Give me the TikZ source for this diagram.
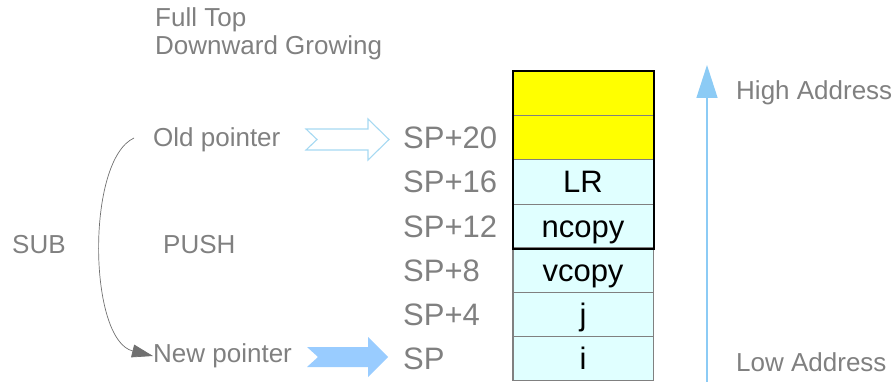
\documentclass[tikz,border=0pt]{standalone}
\usepackage{fontspec}
\setmainfont{Liberation Sans}
\usetikzlibrary{arrows.meta}
\definecolor{txtgray}{HTML}{808080}
\definecolor{cellcyan}{HTML}{E0FFFF}
\definecolor{cellyellow}{HTML}{FFFF00}
\definecolor{cellline}{HTML}{808080}
\definecolor{arrowblue}{HTML}{99CCFF}
\definecolor{outlineblue}{HTML}{A6D9F2}
\definecolor{axisblue}{HTML}{8CCBF5}
\definecolor{curvegray}{HTML}{707070}
\begin{document}
\begin{tikzpicture}[x=1pt,y=-1pt,
  lbl/.style={anchor=base west, inner sep=0pt, text=txtgray, font=\fontsize{26}{28}\selectfont},
  splbl/.style={anchor=base west, inner sep=0pt, text=txtgray, font=\fontsize{31}{33}\selectfont},
  cell/.style={draw=cellline, line width=1pt, minimum width=140pt, minimum height=44pt, inner sep=0pt,
    text height=24pt, text depth=2pt, font=\fontsize{31}{33}\selectfont, text=black, fill=cellcyan},
  ycell/.style={cell, fill=cellyellow},
  hollow/.style={draw=outlineblue, line width=1.1pt, fill=white},
  solid/.style={fill=arrowblue, draw=none},
  curve/.style={draw=curvegray, line width=0.7pt, -{Triangle[length=21pt,width=13pt]}},
  axis/.style={draw=axisblue, line width=1.5pt, -{Triangle[length=33pt,width=21pt]}}
]
\useasboundingbox (0,0) rectangle (896,382);

% titles
\node[lbl] (t1) at (155,27) {Full Top};
\node[lbl] (t2) at (155,55) {Downward Growing};

% left labels
\node[lbl] (old) at (153,147) {Old pointer};
\node[lbl] (new) at (153,362) {New pointer};
\node[lbl] (sub) at (12,253) {SUB};
\node[lbl] (push) at (163,253) {PUSH};

% SP labels
\node[splbl] (sp20) at (403,149) {SP+20};
\node[splbl] (sp16) at (403,193) {SP+16};
\node[splbl] (sp12) at (403,237) {SP+12};
\node[splbl] (sp8) at (403,281) {SP+8};
\node[splbl] (sp4) at (403,325) {SP+4};
\node[splbl] (sp0) at (403,369) {SP};

% stack cells
\node[ycell] (c6) at (583,94) {};
\node[ycell] (c5) at (583,138) {};
\node[cell] (c4) at (583,182) {LR};
\node[cell] (c3) at (583,226) {ncopy};
\node[cell] (c2) at (583,270) {vcopy};
\node[cell] (c1) at (583,314) {j};
\node[cell] (c0) at (583,358) {i};
\draw[draw=cellline, line width=1.5pt] (c2.north west) rectangle (c0.south east);
\draw[draw=black, line width=2pt] (c6.north west) rectangle (c3.south east);

% block arrows
\draw[hollow] (306,129) -- (368,129) -- (368,119) -- (389,139.5) -- (368,160) -- (368,150) -- (306,150) -- (317,139.5) -- cycle;
\fill[solid] (307,347) -- (368,347) -- (368,337) -- (388,357) -- (368,377) -- (368,367) -- (307,367) -- (318,357) -- cycle;

% curved arrow
\coordinate (cstart) at (134,138);
\draw[curve] (cstart) .. controls (86,160) and (88,340) .. (new.west |- 0,356);

% address axis
\coordinate (abot) at (707,382);
\coordinate (atop) at (707,65);
\draw[axis] (abot) -- (atop);
\node[lbl] (high) at (736,100) {High Address};
\node[lbl] (low) at (736,371) {Low Address};
\end{tikzpicture}
\end{document}
